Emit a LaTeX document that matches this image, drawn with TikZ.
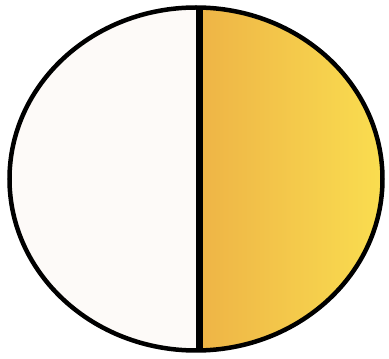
\documentclass[tikz,border=0pt]{standalone}
\begin{document}
\begin{tikzpicture}[x=1pt,y=1pt,
  outline/.style={draw=black,line width=4.5pt},
  divider/.style={draw=black,line width=7pt}]
\useasboundingbox (0,0) rectangle (389,359);
\fill[white] (0,0) rectangle (389,359);
\coordinate (c) at (196,180);
\coordinate (top) at (199.5,351.5);
\coordinate (bot) at (199.5,8.5);
\begin{scope}
  \clip (c) ellipse [x radius=186.5, y radius=171.5];
  \fill[color={rgb,255:red,253;green,250;blue,248}] (0,0) rectangle (199.5,359);
  \shade[left color={rgb,255:red,238;green,180;blue,70}, right color={rgb,255:red,250;green,222;blue,80}] (199.5,0) rectangle (386,359);
\end{scope}
\draw[outline] (c) ellipse [x radius=186.5, y radius=171.5];
\draw[divider] (top) -- (bot);
\end{tikzpicture}
\end{document}
